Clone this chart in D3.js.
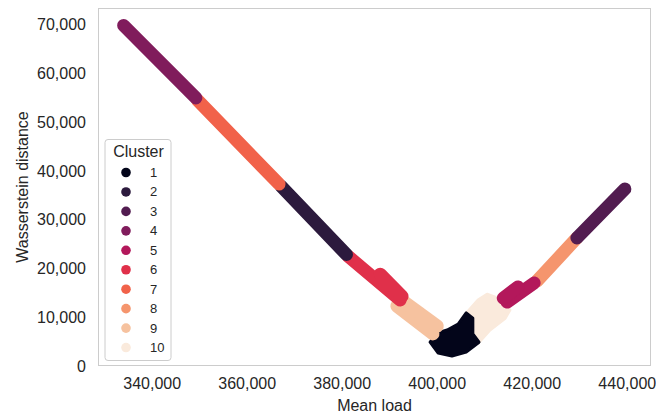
<!DOCTYPE html>
<html>
<head>
<meta charset="utf-8">
<script src="https://cdn.jsdelivr.net/npm/d3@7"></script>
<style>
  body { margin: 0; background: #fff; }
  text { font-family: "Liberation Sans", Arial, sans-serif; fill: #262626; }
</style>
</head>
<body>
<svg id="chart"></svg>
<script>
// cluster ids and the rocket colours used for them
const clusters = [1, 2, 3, 4, 5, 6, 7, 8, 9, 10];
const palette = ['#03051a', '#2c1a3d', '#521c50', '#801c5c', '#b3185b', '#e0304a',
                 '#f1624a', '#f5956d', '#f6c29f', '#faeadc'];

// a run that closes on itself is a filled blob
const c1 = [[[398600, 5000], [400300, 2800], [403200, 2200], [406200, 3000], [408900, 5000],
             [407600, 6700], [407600, 9900], [406200, 11000], [404500, 8700], [402200, 7500],
             [400100, 6900], [398600, 5000]]];
const c2 = [[[367200, 36900], [381000, 22900]]];
const c3 = [[[429500, 26300], [439600, 36300]]];
const c4 = [[[334100, 69700], [349300, 54900]]];
const c5 = [[[414800, 13200], [420500, 17100]], [[414000, 14000], [417100, 16300]]];
const c6 = [[[381300, 22600], [392300, 13600]], [[388100, 18900], [392700, 14400]]];
const c7 = [[[349600, 54500], [366800, 37300]]];
const c8 = [[[421100, 17500], [429500, 26300]]];
const c9 = [[[391600, 12400], [399200, 6700]], [[392900, 13400], [400100, 8300]]];
const c10 = [[[406600, 5500], [405300, 9900], [408700, 13600], [410600, 14800], [412300, 14200],
              [415400, 11600], [414400, 9900], [411200, 7500], [408700, 4800], [406600, 5500]]];

const xTicks = [340000, 360000, 380000, 400000, 420000, 440000];
const yTicks = [0, 10000, 20000, 30000, 40000, 50000, 60000, 70000];

const runs = {1: c1, 2: c2, 3: c3, 4: c4, 5: c5, 6: c6, 7: c7, 8: c8, 9: c9, 10: c10};
const drawOrder = [10, 1, 9, 8, 3, 5, 6, 2, 7, 4];

const width = 656, height = 418;
const margin = {top: 8, right: 5, bottom: 52, left: 98};

const svg = d3.select('#chart')
    .attr('width', width)
    .attr('height', height);

const x = d3.scaleLinear()
    .domain([328700, 445100])
    .range([margin.left, width - margin.right]);

const y = d3.scaleLinear()
    .domain([143, 73270])
    .range([height - margin.bottom, margin.top]);

const color = d3.scaleOrdinal().domain(clusters).range(palette);

// frame
svg.append('rect')
    .attr('x', margin.left + 0.5)
    .attr('y', margin.top + 0.5)
    .attr('width', width - margin.left - margin.right - 1)
    .attr('height', height - margin.top - margin.bottom - 1)
    .attr('fill', 'none')
    .attr('stroke', '#cccccc')
    .attr('stroke-width', 1);

// axes
const fmt = d3.format(',');
const xAxis = svg.append('g')
    .attr('transform', `translate(0, ${height - margin.bottom})`)
    .call(d3.axisBottom(x).tickValues(xTicks).tickSize(0).tickPadding(12).tickFormat(fmt));
const yAxis = svg.append('g')
    .attr('transform', `translate(${margin.left}, 0)`)
    .call(d3.axisLeft(y).tickValues(yTicks).tickSize(0).tickPadding(12).tickFormat(fmt));

[xAxis, yAxis].forEach(g => {
    g.select('.domain').remove();
    g.selectAll('text')
        .attr('font-family', '"Liberation Sans", Arial, sans-serif')
        .attr('font-size', 16)
        .attr('fill', '#262626');
});

svg.append('text')
    .attr('x', (margin.left + width - margin.right) / 2)
    .attr('y', 411)
    .attr('text-anchor', 'middle')
    .attr('font-size', 16)
    .text('Mean load');

svg.append('text')
    .attr('transform', `translate(28, ${(margin.top + height - margin.bottom) / 2}) rotate(-90)`)
    .attr('text-anchor', 'middle')
    .attr('font-size', 16)
    .text('Wasserstein distance');

// points
const line = d3.line()
    .x(d => x(d[0]))
    .y(d => y(d[1]));

const closed = r => r.length > 2 && r[0][0] === r[r.length - 1][0] && r[0][1] === r[r.length - 1][1];

const marks = svg.append('g');
drawOrder.forEach(c => {
    marks.selectAll(null)
        .data(runs[c])
        .join('path')
        .attr('d', line)
        .attr('fill', r => closed(r) ? color(c) : 'none')
        .attr('stroke', color(c))
        .attr('stroke-width', r => closed(r) ? 3 : 13)
        .attr('stroke-linecap', 'round')
        .attr('stroke-linejoin', 'round');
});

// legend
const legend = svg.append('g')
    .attr('transform', 'translate(105, 139.5)');

legend.append('rect')
    .attr('width', 66)
    .attr('height', 221)
    .attr('rx', 3)
    .attr('fill', 'rgba(255,255,255,0.8)')
    .attr('stroke', '#cccccc');

legend.append('text')
    .attr('x', 33.5)
    .attr('y', 17.5)
    .attr('text-anchor', 'middle')
    .attr('font-size', 16)
    .text('Cluster');

const item = legend.selectAll('g.item')
    .data(clusters)
    .join('g')
    .attr('class', 'item')
    .attr('transform', (d, i) => `translate(0, ${33 + i * 19.45})`);

item.append('circle')
    .attr('cx', 21)
    .attr('cy', 0)
    .attr('r', 4.8)
    .attr('fill', d => color(d));

item.append('text')
    .attr('x', 45)
    .attr('y', 4.5)
    .attr('font-size', 13)
    .text(d => d);
</script>
</body>
</html>
